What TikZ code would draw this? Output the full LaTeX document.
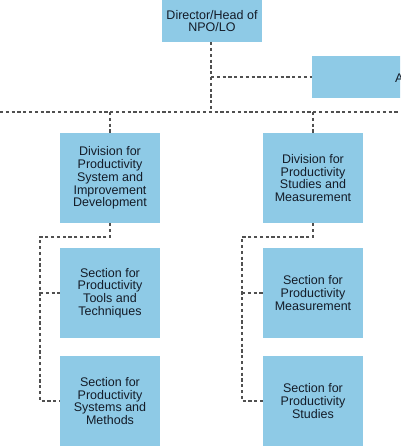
\documentclass[tikz,border=0pt]{standalone}
\usepackage{fontspec}
\setmainfont{Liberation Sans}
\definecolor{boxblue}{RGB}{142,202,230}
\definecolor{txt}{RGB}{20,28,40}
\definecolor{lne}{RGB}{80,80,80}
\begin{document}
\begin{tikzpicture}[x=1pt,y=-1pt,
  orgbox/.style={rectangle,fill=boxblue,draw=none,text=txt,align=center,
    minimum width=100pt,minimum height=90pt,inner sep=2pt,
    font=\fontsize{12.5}{12.8}\selectfont},
  conn/.style={draw=lne,line width=1.4pt,dash pattern=on 3.2pt off 2.6pt}]
\useasboundingbox (0,0) rectangle (400,446);
\clip (0,0) rectangle (400,446);
\node[orgbox,minimum height=42pt] (dir) at (212,21) {Director/Head of\\NPO/LO};
\node[orgbox,minimum height=42pt,minimum width=120pt] (adv) at (372,77) {};
\node[anchor=west,text=txt,inner sep=0pt,font=\fontsize{12.5}{12.8}\selectfont] (advt) at (395,78) {A};
\node[orgbox] (divL) at (110,178) {Division for\\Productivity\\System and\\Improvement\\Development};
\node[orgbox] (divR) at (313,178) {Division for\\Productivity\\Studies and\\Measurement};
\node[orgbox] (secL1) at (110,293) {Section for\\Productivity\\Tools and\\Techniques};
\node[orgbox] (secL2) at (110,401) {Section for\\Productivity\\Systems and\\Methods};
\node[orgbox] (secR1) at (313,293) {Section for\\Productivity\\Measurement};
\node[orgbox] (secR2) at (313,401) {Section for\\Productivity\\Studies};
\coordinate (j0) at (211,112);
\coordinate (jb) at (211,77);
\coordinate (hl) at (0,112);
\coordinate (hr) at (400,112);
\coordinate (jl) at (110,112);
\coordinate (jr) at (313,112);
\coordinate (kl) at (110,237);
\coordinate (kr) at (313,237);
\coordinate (ll) at (40,237);
\coordinate (lr) at (242,237);
\coordinate (ml1) at (40,293);
\coordinate (ml2) at (40,401);
\coordinate (mr1) at (242,293);
\coordinate (mr2) at (242,401);
\draw[conn] (dir.south -| j0) -- (j0);
\draw[conn] (jb) -- (adv.west |- jb);
\draw[conn] (hl) -- (hr);
\draw[conn] (jl) -- (divL.north);
\draw[conn] (jr) -- (divR.north);
\draw[conn] (divL.south) -- (kl) -- (ll) -- (ml2) -- (secL2.west);
\draw[conn] (ml1) -- (secL1.west);
\draw[conn] (divR.south) -- (kr) -- (lr) -- (mr2) -- (secR2.west);
\draw[conn] (mr1) -- (secR1.west);
\end{tikzpicture}
\end{document}
